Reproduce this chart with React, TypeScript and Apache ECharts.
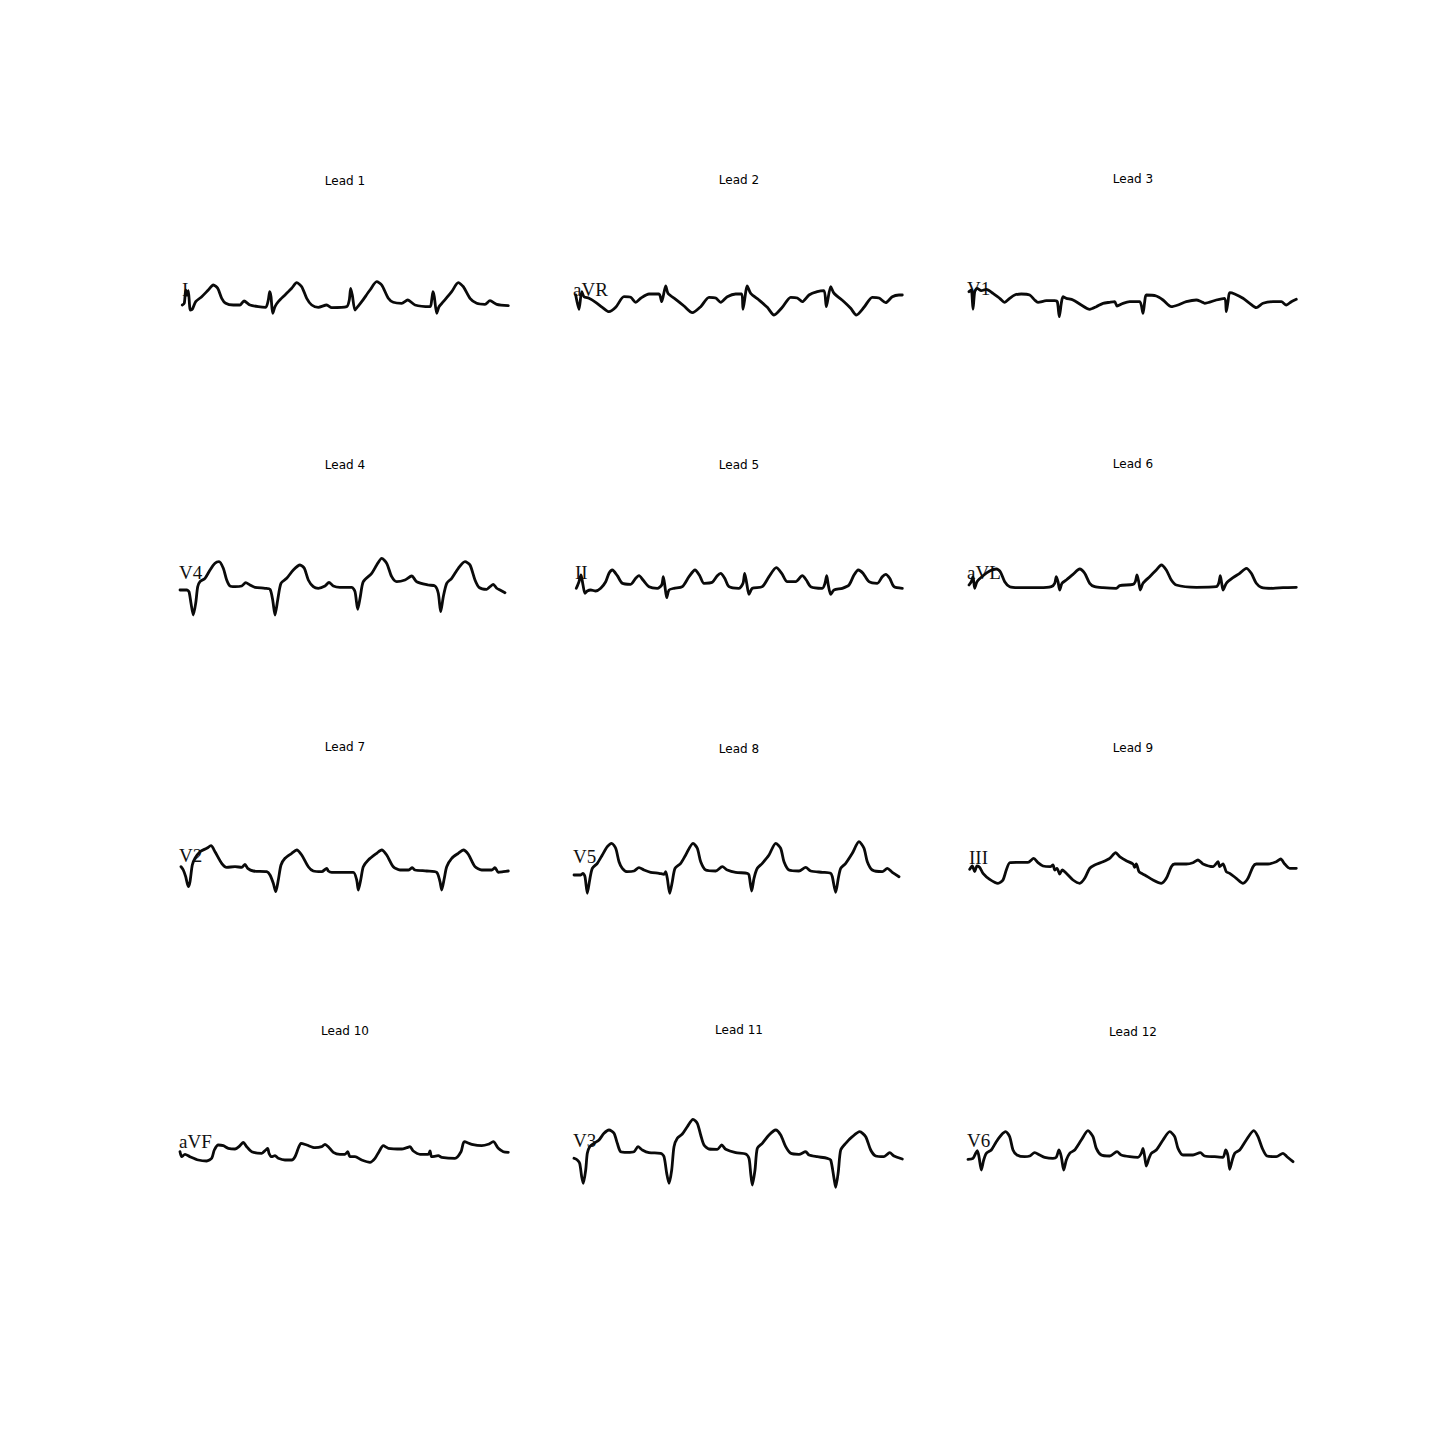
import React, { useEffect, useRef } from "react";
import * as echarts from "echarts";

// Lead titles, printed lead labels, and traced waveforms ([time px, amplitude px])
const titles = ["Lead 1", "Lead 2", "Lead 3", "Lead 4", "Lead 5", "Lead 6", "Lead 7", "Lead 8", "Lead 9", "Lead 10", "Lead 11", "Lead 12"];
const leadNames = ["I", "aVR", "V1", "V4", "II", "aVL", "V2", "V5", "III", "aVF", "V3", "V6"];

const lead1 = [[2.3,-5],[4.3,-3.3],[5.7,10],[7,5],[8.3,9.3],[10.3,-10],[12.3,-9.3],[15.7,-1.7],[21.7,3.3],[28.3,10],[33.3,15],[37.7,11.7],[41.7,1.7],[45.7,-3.3],[53.3,-5],[60,-5],[64,-1],[70,-5],[78.3,-6.7],[85.7,-7.3],[88.3,0],[89.7,8.3],[91,3.3],[92.7,-13.3],[95,-6.7],[98.3,-1.7],[105,5],[111.7,11.7],[116.7,17.3],[121.7,13.3],[126.7,1.7],[131.7,-5],[138.3,-7.3],[146.7,-5],[151.7,-7.7],[166.7,-6.7],[169.3,0],[170.7,11.7],[172.3,5],[175,-10],[177.7,-6.7],[181.7,-1.7],[190,10],[196.7,18.3],[201.7,15],[208.3,1.7],[213.3,-2.3],[221.7,-3.3],[227.7,0],[235,-5],[250,-6.7],[251.7,0],[253,8.3],[254.3,3.3],[256.7,-13.3],[259,-6.7],[263.3,-1.7],[271.7,8.3],[278.3,17.3],[283.3,13.3],[290,1.7],[296.7,-3.3],[305,-4.3],[310,-0.7],[316.7,-4.3],[328.3,-5.7]];
const lead2 = [[1.7,5],[5,-9.3],[7.7,8.3],[10,3.3],[15,1.7],[21.7,-2.3],[28.3,-7.3],[35,-11.7],[41.7,-7.3],[50,3.3],[56.7,2.7],[61.7,-2.3],[66.7,1.7],[75,6],[85,6],[87.7,-1.7],[91.7,14],[94,6.7],[101.7,0.7],[110,-6],[118.3,-12.7],[126.7,-6.7],[135,2.7],[141.7,2],[146.7,-2.3],[153.3,3.3],[161.7,6],[167.7,6],[169,-9.3],[173.3,14],[176.7,6.7],[185,0],[193.3,-7.3],[200,-15],[208.3,-7.3],[216.7,2.7],[223.3,2],[228.3,-1.7],[235,5],[243.3,8.3],[250,9.3],[252.3,-6.7],[256.7,13.3],[260,6.7],[270,-1.7],[276.7,-8.3],[282.3,-15],[290,-7.3],[298.3,2.7],[305,2],[311.7,-2.7],[318.3,3.3],[325,5],[328.3,5]];
const lead3 = [[1,8.3],[3.3,10],[5,-9.3],[6.7,8.3],[9,11.7],[13.3,9.3],[18.3,10.7],[25,6.7],[31.7,1.7],[36.7,-2.3],[41.7,1.7],[46.7,5],[53.3,6],[61.7,5],[66.7,0],[70,-2.3],[78.3,-0.7],[86.7,-0.7],[89.3,-1.7],[91.3,-16.7],[93.3,-3.3],[95,3.3],[98.3,1.7],[105,0],[113.3,-5],[121.7,-9.3],[128.3,-6.7],[135,-3.3],[141.7,-2.3],[146.7,-1.7],[149,-6],[155,-3.3],[161.7,-1.7],[171.7,-1.7],[175,-13.3],[176.7,-1.7],[178.3,5],[188.3,4],[195,0],[203.3,-6.7],[210,-5],[218.3,-1.7],[228.3,0],[233.3,-1.7],[236.7,-3.3],[248.3,0],[256.7,1.7],[258.3,-11.7],[260,-1.7],[261.7,7.3],[266.7,6],[275,1.7],[281.7,-3.3],[288.3,-7.7],[295,-3.3],[305,-1.7],[313.3,-1.7],[318.3,-5],[323.3,-1.7],[328.3,0.7]];
const lead4 = [[0,-5],[6.7,-5],[9,-6.7],[11,-18.3],[13.3,-30],[15.7,-18.3],[17.7,-1.7],[20,3.3],[25,6.7],[30,15],[35,21.7],[39,23.3],[43.3,16.7],[46.7,5],[50,-1],[55,-1.7],[61.7,-1],[65.7,2.3],[70,0],[75,-2.3],[85,-3.3],[90,-4.3],[92.7,-15],[95,-30],[97.7,-15],[101,1.7],[106.7,6.7],[113.3,15],[120,20],[124.3,16.7],[128.3,5],[133.3,-1.7],[138.3,-3.3],[145,-1],[149,2.7],[153.3,-1],[160,-2.3],[171.7,-2.3],[175,-6.7],[177.7,-24.3],[180.3,-11.7],[183.3,3.3],[191.7,11.7],[196.7,20],[201.7,26.7],[206.7,21.7],[211.7,8.3],[216.7,3.3],[225,5],[231.7,9],[236.7,3.3],[248.3,0],[255,-1],[258.3,-8.3],[260.7,-26.7],[263.3,-11.7],[266.7,1.7],[271.7,6.7],[278.3,16.7],[285,23.3],[290,20],[295,5],[299,-2.3],[306.7,-4.3],[310,-1.7],[313.3,0.7],[316.7,-3.3],[320,-5],[325,-7.7]];
const lead5 = [[2.3,-3.3],[5,3.3],[7,10],[9,0],[11,-8.3],[13.3,-6],[16.7,-5],[21.7,-6],[26.7,-3.3],[31.7,3.3],[35,11.7],[38.3,15],[43.3,9.3],[48.3,1.7],[56.7,0.7],[61.7,6.7],[65,9.3],[69,5],[75,-1.7],[83.3,-3.3],[87.7,0],[89.3,8.3],[91,-1.7],[92.7,-12.7],[95,-5],[100,-3.3],[108.3,-1.7],[115,8.3],[121,15],[125.7,9.3],[130,1.7],[138.3,2.7],[143.3,9.3],[146.7,11.7],[150.7,6.7],[155,-1.7],[165,-3.3],[169,1.7],[170.7,11.7],[172.7,1.7],[175,-9.3],[178.3,-3.3],[188.3,-1.7],[195,8.3],[202.3,17.3],[207.7,11.7],[213.3,3.3],[221.7,3.3],[228.3,9.3],[232.3,5],[236.7,-1.7],[248.3,-3.3],[251,1.7],[252.7,9.3],[254.3,0],[256.7,-9.3],[260,-5],[268.3,-3.3],[275,0],[280,10],[284.3,15],[289,11.7],[295,3.3],[303.3,1.7],[308.3,8.3],[311.7,10.7],[315.7,6.7],[320,-1.7],[328.3,-3.3]];
const lead6 = [[1,0],[3.3,3.3],[5,8.3],[6.7,-3.3],[9,3.3],[15,9.3],[21.7,14],[28.3,16],[32.3,13.3],[36.7,3.3],[41.7,-1.7],[51.7,-2.7],[71.7,-2.7],[83.3,-1.7],[86.7,1.7],[88.3,8.3],[90,3.3],[91.7,-5],[94,1.7],[98.3,5],[105,10.7],[111.7,16],[116.7,11.7],[121.7,1.7],[126.7,-1.7],[135,-2.7],[148.3,-3.3],[151.7,-0.7],[165,0.7],[167.3,3.3],[169,10],[170.7,3.3],[172.3,-5],[175,1.7],[181.7,8.3],[188.3,15],[193.3,20],[198.3,15],[203.3,5],[208.3,0],[228.3,-2.3],[248.3,-1.7],[250.7,1.7],[252.3,9.3],[253.7,1.7],[255,-5],[258.3,1.7],[265,7.3],[271.7,11.7],[278.3,16.7],[283.3,11.7],[288.3,1.7],[293.3,-2.3],[305,-3.3],[315,-2.7],[328.3,-2.3]];
const lead7 = [[1,1.3],[3.3,-2],[5.7,-8.7],[8.3,-18.7],[10,-13.7],[12.3,3],[15,9.7],[20,16.3],[26.7,19.7],[31,22.3],[35,16.3],[41.7,4.7],[46.7,0.7],[55,1.3],[61.7,0.7],[65,3.7],[67.7,-0.3],[73.3,-3],[86.7,-3.7],[90,-7],[93.3,-15.3],[95.7,-23.7],[98.3,-12],[101,3],[105,9.7],[111.7,14.7],[116.7,18],[121.7,13],[128.3,1.3],[133.3,-3],[141.7,-3.7],[146.7,-0.3],[148.3,-3],[151.7,-4.3],[173.3,-4.3],[176.7,-12],[178.3,-22],[181,-10.3],[183.3,1.3],[188.3,8],[196.7,14.7],[201.7,18],[206.7,13],[213.3,1.3],[220,-2],[228.3,-2],[232.3,0.3],[235,-2],[246.7,-3],[256.7,-4.3],[260,-13.7],[261.7,-22],[264.3,-10.3],[266.7,1.3],[271.7,9.7],[278.3,14.7],[283.3,18],[288.3,13.7],[295,1.3],[301.7,-2],[311.7,-2],[315,0.3],[318.3,-4.3],[323.3,-3.7],[328.3,-3]];
const lead8 = [[0,-7],[6.7,-7],[9,-5.3],[11,-8.7],[13.3,-25.3],[15.7,-12],[18.3,-0.3],[23.3,4.7],[28.3,13],[33.3,21.3],[37.7,24.7],[41.7,19.7],[45,6.3],[48.3,-0.3],[53.3,-3.7],[60,-3],[65,0.3],[70,-2],[76.7,-4.3],[85,-5.3],[90,-6.3],[91.7,-3.7],[93.3,-10.3],[95.7,-25.3],[98.3,-13.7],[101,-0.3],[106.7,4.7],[111.7,13],[119,24.7],[123.3,19.7],[126.7,6.3],[131.7,-2],[141.7,-3],[148.3,1.3],[153.3,-2],[161.7,-4.3],[173.3,-5.3],[175,-7],[177.7,-23],[180,-10.3],[183.3,-0.3],[188.3,4.7],[195,13],[201.7,24.7],[206.7,19.7],[210,6.3],[215,-2],[225,-3],[231.7,0.7],[236.7,-3],[248.3,-4.3],[256.7,-5.3],[258.3,-8.7],[261.7,-24.3],[264.3,-10.3],[266.7,-0.3],[271.7,4.7],[278.3,14.7],[285,26.3],[290,19.7],[293.3,6.3],[298.3,-2],[308.3,-3.7],[313.3,-0.3],[318.3,-4.3],[325,-8.7]];
const lead9 = [[1.7,-1.3],[4.3,2],[6.7,-3.7],[9,2],[11.7,0.7],[15,-5.3],[21.7,-11.3],[30,-15.3],[35,-12],[38.3,-2],[41.7,5.3],[48.3,5.7],[60,5.7],[65.7,9.7],[70,5.3],[75,2],[82.3,1.3],[85,3],[86.7,-2],[89,-0.3],[91.7,-6],[94.3,-2],[98.3,-5.3],[105,-12],[111.7,-15.3],[116.7,-10.3],[121.7,-0.3],[126.7,3],[135,6.3],[141.7,9.7],[147.7,15.3],[151.7,11.3],[158.3,7.3],[165,4],[166.7,0.7],[168.3,4],[171,-3.7],[173.3,-5.3],[176.7,-7],[185,-12],[193.3,-15.3],[198.3,-10.3],[203.3,1.3],[206.7,4],[218.3,4],[225,5.3],[230,8],[235,4],[245,1.3],[250,6.3],[251.7,1.3],[255,4],[258.3,-3.7],[261.7,-5.3],[268.3,-10.3],[275,-15.3],[280,-10.3],[285,1.3],[288.3,4],[300,4],[308.3,6.3],[312.7,9],[316.7,4],[321.7,-0.3],[328.3,-0.3]];
const lead10 = [[0,-1.7],[1.7,-6.7],[5,-4.3],[10,-6.7],[18.3,-10],[26.7,-11],[31.7,-8.3],[34.3,0],[38.3,5],[43.3,4.3],[48.3,1.7],[55,1],[60,4.3],[63.3,7.7],[66.7,3.3],[71.7,-1.7],[81.7,-3.3],[85.7,0],[87.7,1.7],[89,-3.3],[91.7,-6.7],[95,-5.7],[98.3,-8.3],[105,-10],[111.7,-10],[115,-6.7],[118.3,1.7],[121,6.7],[126.7,5],[135,2.3],[141.7,3.3],[145,5.7],[148.3,3.3],[153.3,-2.3],[160,-4.3],[165,-4.3],[167.7,-1.7],[170,-6.7],[175,-6.7],[181.7,-10],[190,-12.3],[195,-8.3],[199,-1.7],[203.3,4.3],[208.3,1.7],[221.7,1],[226.7,2.3],[230,3.3],[233.3,-1],[240,-4.3],[248.3,-4.3],[250,-1],[251.7,-6.7],[258.3,-5.7],[261.7,-7.3],[275,-8.3],[281,-1.7],[284.3,8.3],[291.7,5.7],[301.7,4.3],[308.3,5.7],[313.3,8.3],[318.3,1.7],[323.3,-1.7],[328.3,-2.3]];
const lead11 = [[0,-8.3],[3.3,-10],[5.7,-13.3],[7.7,-26.7],[9.3,-33.3],[11.7,-20],[13.3,-3.3],[15.7,3.3],[20,6.7],[25,10],[30,16.7],[35,20],[40,16.7],[43.3,6.7],[46.7,-1.7],[53.3,-2.3],[60,-1.7],[64,3.3],[68.3,0],[75,-2.7],[86.7,-3.3],[90,-6.7],[92.7,-23.3],[95,-33.3],[97.7,-20],[100,3.3],[103.3,11.7],[108.3,16],[113.3,23.3],[119,30.7],[123.3,26.7],[126.7,15],[130,5],[135,1],[143.3,0.7],[147.7,5],[151.7,0.7],[161.7,-2.7],[171.7,-4],[175,-8.3],[176.7,-23.3],[178.3,-35],[181,-20],[183.3,1.7],[188.3,6.7],[195,15],[201.7,20],[206.7,15],[211.7,3.3],[216.7,-3.3],[225,-4.3],[231.7,-1.7],[235,-5],[243.3,-6.7],[253.3,-8.3],[256.7,-10],[260,-28.3],[261.7,-37.3],[264.3,-21.7],[266.7,0],[271.7,6.7],[278.3,13.3],[285.7,18.3],[291.7,13.3],[296.7,0],[301.7,-6],[310,-6.7],[315.7,-2.7],[320,-6],[328.3,-9]];
const lead12 = [[0,-9.3],[5,-8.3],[7.7,-3.3],[9.3,-0.7],[11,-6.7],[13.3,-20],[15.7,-10],[18.3,-3.3],[23.3,0],[28.3,8.3],[33.3,15],[37.7,18.3],[41.7,13.3],[45,0],[49,-5],[56.7,-6.7],[61.7,-6],[66.7,-2.7],[71.7,-5],[76.7,-7.3],[85,-8.3],[88.3,-7.3],[91,0],[93.3,-6.7],[95.7,-20],[98.3,-10],[101.7,-3.3],[106.7,0],[113.3,10],[120,19.3],[125,13.3],[128.3,1.7],[133.3,-5],[141.7,-6],[149,-1.7],[153.3,-5],[161.7,-6.7],[170,-7.3],[173.3,-3.3],[175,1.7],[176.7,-6.7],[178.3,-16],[181,-8.3],[183.3,-3.3],[188.3,0],[195,10],[201.7,18.3],[206.7,13.3],[210,1.7],[215,-5],[225,-5],[232.3,-2.7],[236.7,-6],[246.7,-6.7],[255,-7.3],[257.7,0],[260,-6],[261.7,-19.3],[264.3,-10],[266.7,-3.3],[271.7,0],[278.3,10],[285.7,19.3],[290,13.3],[294.3,1.7],[299,-6],[308.3,-6.7],[315,-3.3],[319,-6.7],[325,-11.7]];

const leads = [lead1, lead2, lead3, lead4, lead5, lead6, lead7, lead8, lead9, lead10, lead11, lead12];

// layout
const colLeft = [180, 574, 968];
const rowBase = [300, 585, 868, 1150];
const titleY = [181, 180, 179, 465, 465, 464, 747, 749, 748, 1031, 1030, 1032];
const labelPos = [[182, 289], [573, 289], [967, 288], [179, 572], [575, 572], [967, 572], [179, 855], [573, 856], [969, 857], [179, 1141], [573, 1140], [967, 1140]];
const PANEL_W = 330;
const HALF = 60;

export default function App() {
  const ref = useRef<HTMLDivElement>(null);
  useEffect(() => {
    if (!ref.current) return;
    const chart = echarts.init(ref.current, null, { renderer: "svg" });
    const grid: any[] = [];
    const xAxis: any[] = [];
    const yAxis: any[] = [];
    const series: any[] = [];
    const graphic: any[] = [];
    leads.forEach((d, i) => {
      const r = Math.floor(i / 3);
      const c = i % 3;
      grid.push({ left: colLeft[c], top: rowBase[r] - HALF, width: PANEL_W, height: HALF * 2 });
      xAxis.push({ type: "value", gridIndex: i, min: 0, max: PANEL_W, show: false });
      yAxis.push({ type: "value", gridIndex: i, min: -HALF, max: HALF, show: false });
      series.push({
        type: "line",
        xAxisIndex: i,
        yAxisIndex: i,
        data: d,
        showSymbol: false,
        smooth: 0.25,
        lineStyle: { color: "#0a0a0a", width: 2.8, join: "round", cap: "round" },
        silent: true,
      });
      graphic.push({
        type: "text",
        x: colLeft[c] + PANEL_W / 2,
        y: titleY[i],
        style: {
          text: titles[i],
          fill: "#000",
          font: '12px "DejaVu Sans"',
          textAlign: "center",
          textVerticalAlign: "middle",
        },
      });
      graphic.push({
        type: "text",
        x: labelPos[i][0],
        y: labelPos[i][1],
        style: {
          text: leadNames[i],
          fill: "#111",
          font: '19px "Liberation Serif"',
          textAlign: "left",
          textVerticalAlign: "middle",
        },
      });
    });
    chart.setOption({
      animation: false,
      backgroundColor: "#fff",
      grid,
      xAxis,
      yAxis,
      series,
      graphic,
    });
    return () => chart.dispose();
  }, []);
  return (
    <div
      ref={ref}
      style={{ position: "absolute", left: 0, top: 0, width: 1440, height: 1440, background: "#fff" }}
    />
  );
}
